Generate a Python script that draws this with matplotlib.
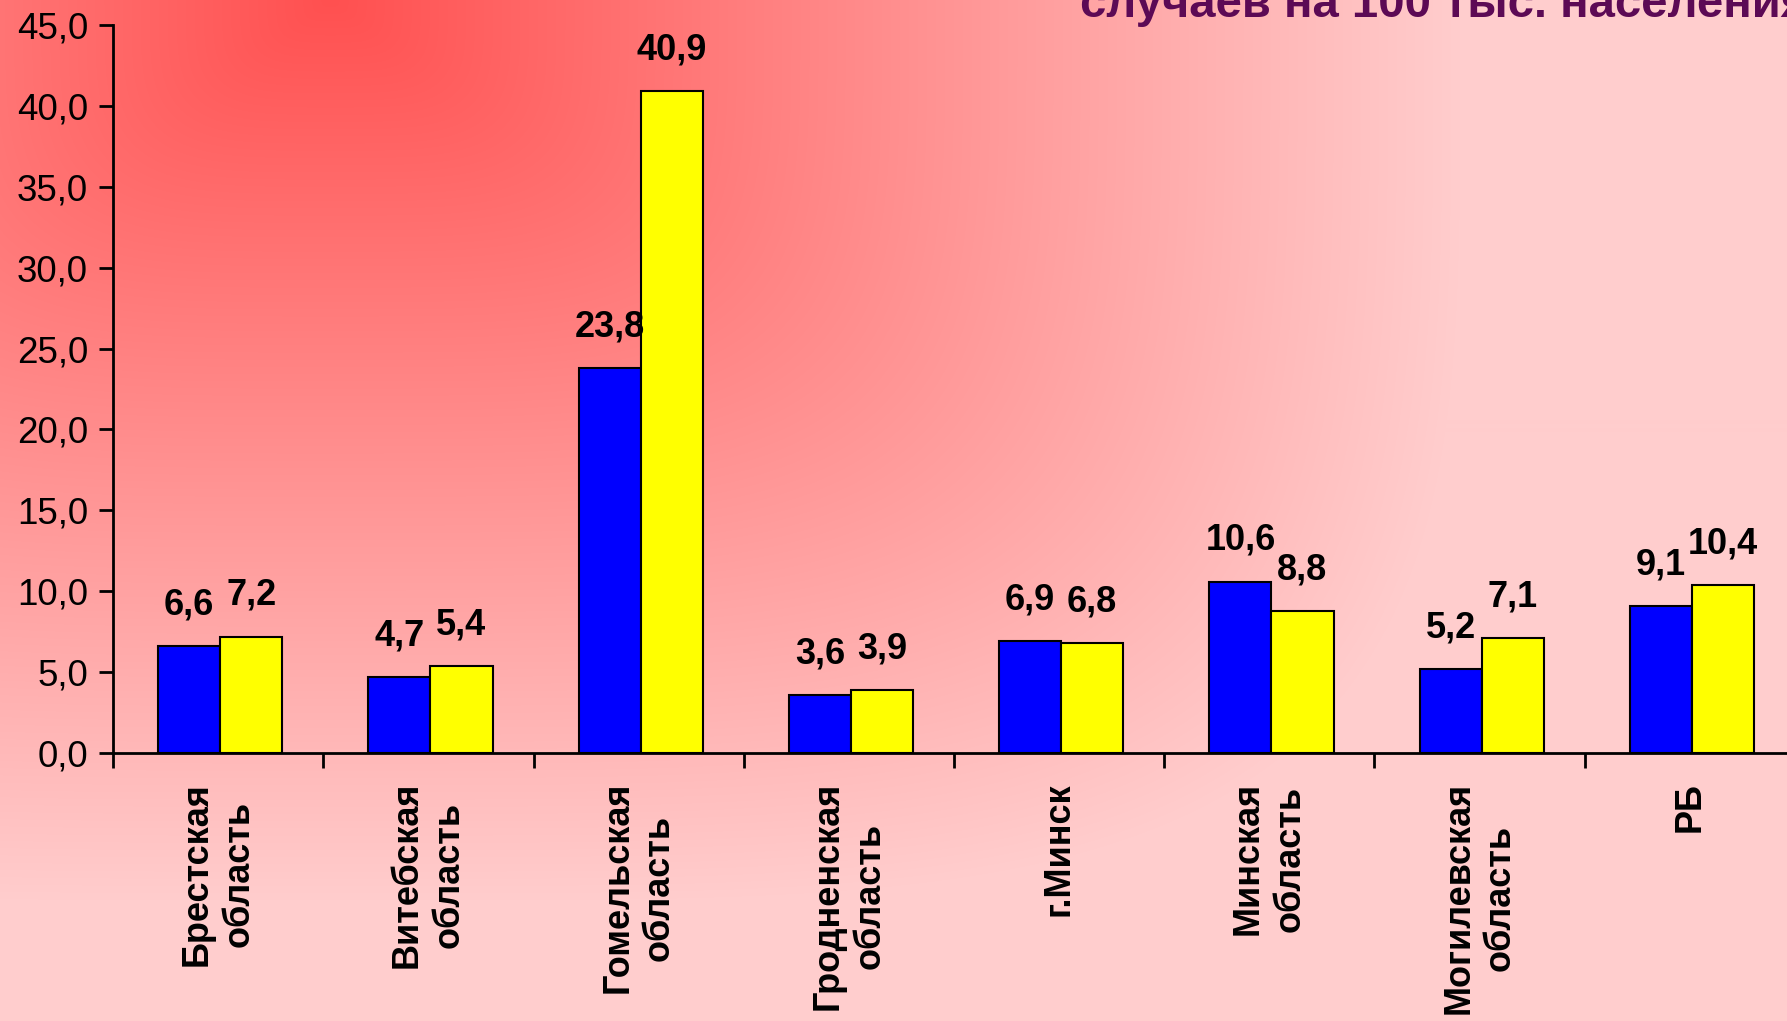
import numpy as np
import matplotlib
matplotlib.use("Agg")
import matplotlib.pyplot as plt
from matplotlib.ticker import FixedLocator

plt.rcParams['font.family'] = ['Liberation Sans', 'DejaVu Sans']

categories = ["Брестская\nобласть", "Витебская\nобласть", "Гомельская\nобласть",
              "Гродненская\nобласть", "г.Минск", "Минская\nобласть",
              "Могилевская\nобласть", "РБ"]
series_blue = [6.6, 4.7, 23.8, 3.6, 6.9, 10.6, 5.2, 9.1]
series_yellow = [7.2, 5.4, 40.9, 3.9, 6.8, 8.8, 7.1, 10.4]
yticks = [0, 5, 10, 15, 20, 25, 30, 35, 40, 45]
title_text = "случаев на 100 тыс. населения"

W, H = 1787, 1021
fig = plt.figure(figsize=(W / 100, H / 100), dpi=100)

# background gradient
bg = fig.add_axes([0, 0, 1, 1], zorder=-10)
yy, xx = np.mgrid[0:H, 0:W]
p = 4.0
t = (np.abs((xx - 330) / 1130.0) ** p + np.abs(yy / 900.0) ** p) ** (1 / p)
t = np.clip(t, 0, 1)
red = np.array([255, 80, 80]) / 255.0
pink = np.array([255, 205, 205]) / 255.0
img = red[None, None, :] * (1 - t[..., None]) + pink[None, None, :] * t[..., None]
bg.imshow(img, extent=[0, 1, 0, 1], aspect='auto', origin='upper')
bg.axis('off')

left = 113 / W
bottom = (H - 753) / H
width = (1795 - 113) / W
height = (753 - 25) / H
ax = fig.add_axes([left, bottom, width, height])
ax.set_facecolor('none')

x = np.arange(len(categories))
bw = 0.295
bars_b = ax.bar(x - bw / 2 + 0.01, series_blue, bw, color='#0000ff', edgecolor='black', linewidth=1.5, zorder=3)
bars_y = ax.bar(x + bw / 2 + 0.01, series_yellow, bw, color='#ffff00', edgecolor='black', linewidth=1.5, zorder=3)

def fmt(v):
    return f"{v:.1f}".replace('.', ',')

for bars, vals in ((bars_b, series_blue), (bars_y, series_yellow)):
    for b, v in zip(bars, vals):
        ax.annotate(fmt(v), (b.get_x() + b.get_width() / 2, v), xytext=(0, 17),
                    textcoords='offset points', ha='center', va='bottom',
                    fontsize=26, fontweight='bold', color='black')

ax.set_xlim(-0.5, len(categories) - 0.5)
ax.set_ylim(0, 45)
ax.set_yticks(yticks)
ax.set_yticklabels([fmt(v) for v in yticks], fontsize=26.5)
ax.tick_params(axis='y', direction='out', length=10, width=2, pad=8)

ax.set_xticks(x)
ax.set_xticklabels([])
ax.tick_params(axis='x', which='major', length=0)
ax.xaxis.set_minor_locator(FixedLocator(np.arange(-0.5, len(categories), 1.0)))
ax.tick_params(axis='x', which='minor', direction='out', length=11, width=2)

for xi, lab in zip(x, categories):
    ax.text(xi, -1.8, lab, rotation=90, ha='center', va='top', multialignment='center',
            fontsize=26, fontweight='bold', color='black', linespacing=1.25)

for s in ('top', 'right'):
    ax.spines[s].set_visible(False)
ax.spines['left'].set_linewidth(2)
ax.spines['bottom'].set_linewidth(2)

fig.text(1080 / W, 1 - 17 / H, title_text, ha='left', va='baseline',
         fontsize=34, fontweight='bold', color='#5c0a55')

fig.savefig('out.png', dpi=100)
